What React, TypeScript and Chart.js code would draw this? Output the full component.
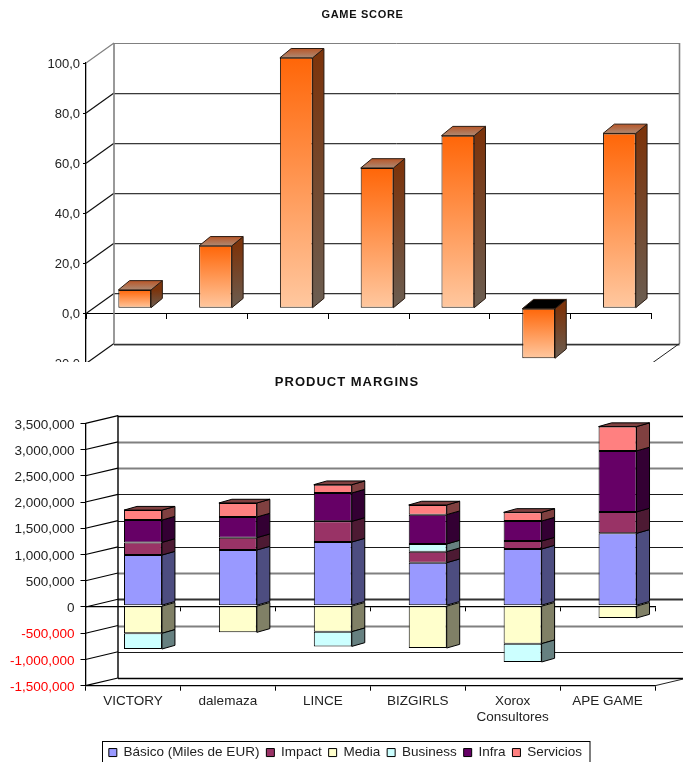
import React, { useEffect, useRef } from "react";
import { Chart, registerables } from "chart.js";

Chart.register(...registerables);

const FONT = '"Liberation Sans", Arial, sans-serif';
const TEXT = "#222222";

// GAME SCORE
const gameSlots = ["1", "2", "3", "4", "5", "6", "7"];
const gameScores = [7.3, 24.9, 100, 56, 68.9, -20, 69.8];

// PRODUCT MARGINS
const companies = ["VICTORY", "dalemaza", "LINCE", "BIZGIRLS", ["Xorox", "Consultores"], "APE GAME"];
const basico = [965000, 1061000, 1213000, 820000, 1080000, 1379000];
const impact = [241000, 235000, 394000, 210000, 152000, 407000];
const media = [-527000, -508000, -496000, -807000, -724000, -235000];
const business = [-299000, 0, -280000, 146000, -349000, 0];
const infra = [425000, 394000, 540000, 559000, 381000, 1163000];
const servicios = [190000, 267000, 159000, 184000, 165000, 464000];

const marginColors = ["#9999FF", "#993366", "#FFFFCC", "#CCFFFF", "#660066", "#FF8080"];
const marginSides = ["#4d4d80", "#4d1a33", "#808066", "#668080", "#330033", "#804040"];

type Line = { color: string; width: number; under?: string };

type Depth = {
  wallDx: number;
  wallDy: number;
  barDx: number;
  barDy: number;
  sideDx: number;
  sideDy: number;
  edge: string;
  gridLine: (value: number) => Line;
  slantLine: (value: number) => string;
  wallColor: string;
  wallWidth: number;
  sideFill: (ctx: CanvasRenderingContext2D, dataset: number, top: number, bottom: number) => any;
  topFill: (ctx: CanvasRenderingContext2D, dataset: number, value: number, top: number) => any;
};

// Title block placement and spacing, applied once the layout has been computed.
function titlePlugin(centerX: number, centerY: number, spacing: string) {
  return {
    id: "titleSpot",
    afterInit(chart: any) {
      const block = chart.titleBlock;
      const draw = block.draw;
      block.draw = function () {
        chart.ctx.letterSpacing = spacing;
        draw.call(block);
        chart.ctx.letterSpacing = "0px";
      };
    },
    afterLayout(chart: any) {
      const block = chart.titleBlock;
      const h = block.height;
      block.left = centerX - 200;
      block.right = centerX + 200;
      block.top = centerY - h / 2;
      block.bottom = centerY + h / 2;
    },
  };
}

// Draws the back walls, the receding grid and the side and top faces of the bars.
function depthPlugin(d: Depth) {
  return {
    id: "depth",
    beforeDatasetsDraw(chart: any) {
      const { ctx, chartArea, scales } = chart;
      const { left, right, top, bottom } = chartArea;
      const y = scales.y;
      ctx.save();
      ctx.lineCap = "butt";
      y.ticks.forEach((t: any) => {
        const py = y.getPixelForValue(t.value);
        const line = d.gridLine(t.value);
        const by = Math.round(py - d.wallDy);
        if (line.under) {
          ctx.strokeStyle = line.under;
          ctx.lineWidth = 1;
          ctx.beginPath();
          ctx.moveTo(left + d.wallDx, by + 1.5);
          ctx.lineTo(right + d.wallDx, by + 1.5);
          ctx.stroke();
        }
        ctx.strokeStyle = line.color;
        ctx.lineWidth = line.width;
        ctx.beginPath();
        ctx.moveTo(left + d.wallDx, by + 0.5);
        ctx.lineTo(right + d.wallDx, by + 0.5);
        ctx.stroke();
        ctx.strokeStyle = d.slantLine(t.value);
        ctx.lineWidth = 1.2;
        ctx.beginPath();
        ctx.moveTo(left, py);
        ctx.lineTo(left + d.wallDx, py - d.wallDy);
        ctx.stroke();
      });
      ctx.strokeStyle = d.wallColor;
      ctx.lineWidth = d.wallWidth;
      ctx.beginPath();
      ctx.moveTo(left + d.wallDx, top - d.wallDy);
      ctx.lineTo(left + d.wallDx, bottom - d.wallDy);
      ctx.moveTo(right + d.wallDx, top - d.wallDy);
      ctx.lineTo(right + d.wallDx, bottom - d.wallDy);
      ctx.stroke();
      ctx.strokeStyle = TEXT;
      ctx.lineWidth = 1;
      ctx.beginPath();
      ctx.moveTo(right, bottom);
      ctx.lineTo(right + d.wallDx, bottom - d.wallDy);
      ctx.stroke();

      // Side faces, then the lid of each column.
      ctx.translate(d.barDx, d.barDy);
      ctx.strokeStyle = d.edge;
      ctx.lineWidth = 1;
      ctx.lineJoin = "round";
      const lids: Record<number, any> = {};
      chart.data.datasets.forEach((ds: any, i: number) => {
        chart.getDatasetMeta(i).data.forEach((el: any, j: number) => {
          const value = ds.data[j];
          if (!value) return;
          const a = Math.min(el.y, el.base);
          const b = Math.max(el.y, el.base);
          const xr = el.x + el.width / 2;
          ctx.fillStyle = d.sideFill(ctx, i, a, b);
          ctx.beginPath();
          ctx.moveTo(xr, a);
          ctx.lineTo(xr + d.sideDx, a - d.sideDy);
          ctx.lineTo(xr + d.sideDx, b - d.sideDy);
          ctx.lineTo(xr, b);
          ctx.closePath();
          ctx.fill();
          ctx.stroke();
          if (!lids[j] || a < lids[j].a) lids[j] = { a, el, i, value };
        });
      });
      Object.values(lids).forEach(({ a, el, i, value }: any) => {
        const xl = el.x - el.width / 2;
        const xr = el.x + el.width / 2;
        ctx.fillStyle = d.topFill(ctx, i, value, a);
        ctx.beginPath();
        ctx.moveTo(xl, a);
        ctx.lineTo(xl + d.sideDx, a - d.sideDy);
        ctx.lineTo(xr + d.sideDx, a - d.sideDy);
        ctx.lineTo(xr, a);
        ctx.closePath();
        ctx.fill();
        ctx.stroke();
      });
      ctx.restore();
    },
    beforeDatasetDraw(chart: any) {
      chart.ctx.save();
      chart.ctx.translate(d.barDx, d.barDy);
    },
    afterDatasetDraw(chart: any) {
      chart.ctx.restore();
    },
  };
}

function gameChart(canvas: HTMLCanvasElement) {
  const depth: Depth = {
    wallDx: 28,
    wallDy: 20,
    barDx: 8.3,
    barDy: -5.2,
    sideDx: 11.3,
    sideDy: 9.3,
    edge: "#2a1a10",
    gridLine: (v) =>
      v === 100
        ? { color: "#808080", width: 1 }
        : { color: v === 0 || v === -20 ? "#333333" : "#3a3a3a", width: v === -20 ? 1.6 : 1, under: "#c8c8c8" },
    slantLine: (v) => (v === 100 ? "#808080" : "#111111"),
    wallColor: "#808080",
    wallWidth: 1.6,
    sideFill: (ctx, _i, top, bottom) => {
      const g = ctx.createLinearGradient(0, top, 0, bottom);
      g.addColorStop(0, "#7c340c");
      g.addColorStop(1, "#6b5e52");
      return g;
    },
    topFill: (ctx, _i, value, top) => {
      if (value < 0) return "#000000";
      const g = ctx.createLinearGradient(0, top - 9, 0, top);
      g.addColorStop(0, "#b9582a");
      g.addColorStop(1, "#ad8a74");
      return g;
    },
  };
  return new Chart(canvas, {
    type: "bar",
    data: {
      labels: gameSlots,
      datasets: [
        {
          data: gameScores,
          clip: false,
          barPercentage: 0.405,
          categoryPercentage: 1,
          borderWidth: 1,
          borderColor: "#1a1008",
          borderSkipped: false,
          backgroundColor: (c: any) => {
            if (c.raw === undefined) return "#ff6600";
            const sy = c.chart.scales.y;
            const a = sy?.getPixelForValue(Math.max(c.raw, 0));
            const b = sy?.getPixelForValue(Math.min(c.raw, 0));
            if (!Number.isFinite(a) || !Number.isFinite(b)) return "#ff6600";
            const g = c.chart.ctx.createLinearGradient(0, a, 0, b);
            g.addColorStop(0, "#ff6608");
            g.addColorStop(1, "#ffc8a0");
            return g;
          },
        },
      ],
    } as any,
    options: {
      animation: false,
      responsive: false,
      layout: { padding: { top: 49.8, bottom: 11.5, left: 0, right: 31.5 } },
      plugins: {
        legend: { display: false },
        tooltip: { enabled: false },
        title: {
          display: true,
          text: "GAME SCORE",
          color: "#111111",
          padding: 0,
          font: { family: FONT, size: 11, weight: "bold", lineHeight: 1.2 },
        },
      },
      scales: {
        x: {
          position: { y: 0 },
          offset: true,
          border: { color: "#000000", width: 1 },
          grid: { offset: true, drawOnChartArea: false, drawTicks: true, tickLength: 5, tickColor: "#000000" },
          ticks: { display: false },
        },
        y: {
          min: -20,
          max: 100,
          afterFit: (s: any) => {
            s.width = 86;
          },
          border: { color: "#000000", width: 1.3 },
          grid: { drawOnChartArea: false, tickLength: 3, tickColor: "#000000" },
          ticks: {
            stepSize: 20,
            padding: 3,
            labelOffset: 1,
            color: TEXT,
            font: { family: FONT, size: 13 },
            callback: (v: any) => Number(v).toFixed(1).replace(".", ","),
          },
        },
      },
    } as any,
    plugins: [titlePlugin(362.5, 15, "0.7px"), depthPlugin(depth)],
  });
}

// Back-wall strokes of the margins chart, by axis value.
const marginGrid = (v: number): Line => {
  if (v === 3500000 || v === -1500000) return { color: "#000000", width: 1.3 };
  if (v === 3000000 || v === 2500000 || v === 500000 || v === -500000) return { color: "#808080", width: 2 };
  if (v === 0) return { color: "#333333", width: 1.8 };
  return { color: "#1a1a1a", width: 1 };
};

function marginsChart(canvas: HTMLCanvasElement) {
  const depth: Depth = {
    wallDx: 32.5,
    wallDy: 7.7,
    barDx: 10,
    barDy: -1.3,
    sideDx: 13,
    sideDy: 3.7,
    edge: "#000000",
    gridLine: marginGrid,
    slantLine: () => "#000000",
    wallColor: "#000000",
    wallWidth: 1.4,
    sideFill: (_ctx, i) => marginSides[i],
    topFill: (_ctx, i) => marginSides[i],
  };
  const series: [string, number[]][] = [
    ["Básico (Miles de EUR)", basico],
    ["Impact", impact],
    ["Media", media],
    ["Business", business],
    ["Infra", infra],
    ["Servicios", servicios],
  ];
  return new Chart(canvas, {
    type: "bar",
    data: {
      labels: companies,
      datasets: series.map(([label, data], i) => ({
        label,
        data,
        clip: false,
        stack: "all",
        barPercentage: 0.4,
        categoryPercentage: 1,
        backgroundColor: marginColors[i],
        borderColor: "#000000",
        borderWidth: 1,
        borderSkipped: false,
      })),
    } as any,
    options: {
      animation: false,
      responsive: false,
      layout: { padding: { top: 45.7, bottom: 0, left: 0, right: 28 } },
      plugins: {
        tooltip: { enabled: false },
        title: {
          display: true,
          text: "PRODUCT MARGINS",
          color: "#111111",
          padding: 0,
          font: { family: FONT, size: 13, weight: "bold", lineHeight: 1.2 },
        },
        legend: {
          position: "bottom",
          labels: {
            boxWidth: 8,
            boxHeight: 8,
            padding: 7,
            color: TEXT,
            font: { family: FONT, size: 13.5 },
          },
        },
      },
      scales: {
        x: {
          stacked: true,
          afterFit: (s: any) => {
            s.height = 400 - 323.7 - (s.chart.legend?.height ?? 27);
          },
          border: { color: "#000000", width: 1.3 },
          grid: { offset: true, drawOnChartArea: false, tickLength: 5, tickColor: "#000000" },
          ticks: {
            padding: 2,
            maxRotation: 0,
            autoSkip: false,
            color: TEXT,
            font: { family: FONT, size: 13.5 },
          },
        },
        zero: {
          type: "category",
          labels: companies,
          axis: "x",
          position: { y: 0 },
          offset: true,
          border: { color: "#000000", width: 1.3 },
          grid: { offset: true, drawOnChartArea: false, tickLength: 4, tickColor: "#000000" },
          ticks: { display: false },
        },
        y: {
          stacked: true,
          min: -1500000,
          max: 3500000,
          afterFit: (s: any) => {
            s.width = 85.5;
          },
          border: { color: "#000000", width: 1.3 },
          grid: { drawOnChartArea: false, tickLength: 5, tickColor: "#000000" },
          ticks: {
            stepSize: 500000,
            padding: 6,
            labelOffset: 1.5,
            color: (c: any) => (c.tick.value < 0 ? "#ff0000" : TEXT),
            font: { family: FONT, size: 13.5 },
            callback: (v: any) => Number(v).toLocaleString("en-US"),
          },
        },
      },
    } as any,
    plugins: [
      titlePlugin(347, 20, "1px"),
      depthPlugin(depth),
      {
        id: "legendFrame",
        afterLayout(chart: any) {
          const lg = chart.legend;
          const cx = 345.4;
          lg.left = cx - 341;
          lg.right = cx + 341;
          lg.top = 376.8;
          lg.bottom = lg.top + lg.height;
        },
        afterDraw(chart: any) {
          const { ctx } = chart;
          ctx.save();
          ctx.strokeStyle = "#000000";
          ctx.lineWidth = 1;
          ctx.strokeRect(102.5, 379.5, 487.5, 40);
          ctx.restore();
        },
      },
    ],
  });
}

export default function App() {
  const gameRef = useRef<HTMLCanvasElement>(null);
  const marginRef = useRef<HTMLCanvasElement>(null);
  useEffect(() => {
    const a = gameChart(gameRef.current!);
    const b = marginsChart(marginRef.current!);
    return () => {
      a.destroy();
      b.destroy();
    };
  }, []);
  return (
    <div style={{ position: "absolute", left: 0, top: 0, width: 683, height: 762, overflow: "hidden", background: "#fff" }}>
      <canvas ref={gameRef} width={683} height={375} style={{ position: "absolute", left: 0, top: 0 }} />
      <canvas ref={marginRef} width={683} height={400} style={{ position: "absolute", left: 0, top: 362, background: "#fff" }} />
    </div>
  );
}
